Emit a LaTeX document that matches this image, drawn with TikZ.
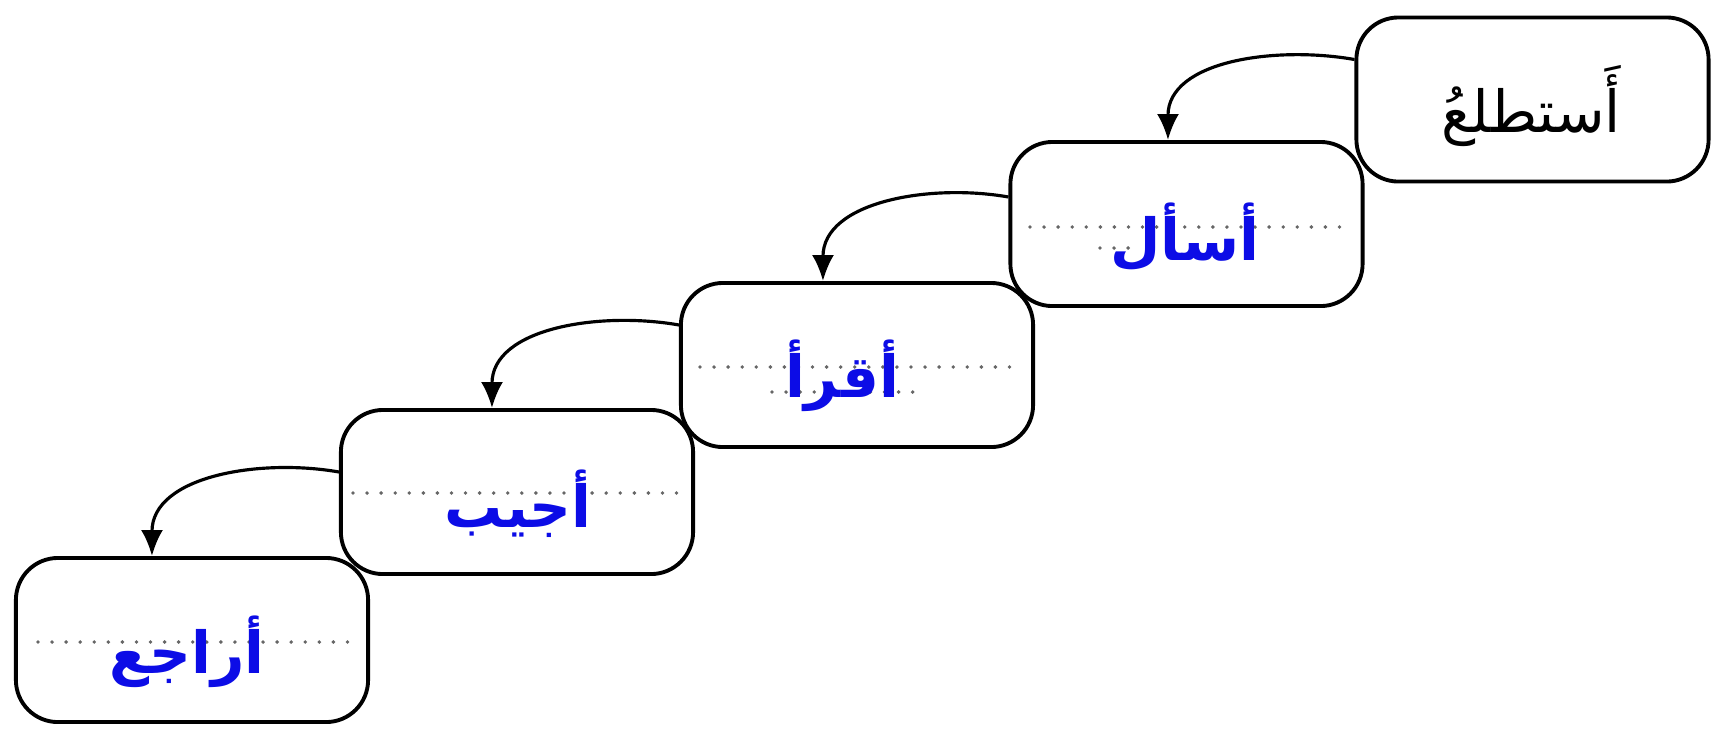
\documentclass[tikz,border=0pt]{standalone}
\usepackage{fontspec}
\TeXXeTstate=1
\newfontfamily\arabicfont[Script=Arabic]{DejaVu Sans}
\usetikzlibrary{arrows.meta}
\definecolor{ansblue}{RGB}{12,12,230}
\begin{document}
\begin{tikzpicture}[x=0.01cm,y=-0.01cm,
  box/.style={draw, line width=1.1pt, rounded corners=0.42cm, minimum width=3.52cm, minimum height=1.64cm, inner sep=0pt},
  word/.style={font=\arabicfont\bfseries\fontsize{16.5}{19}\selectfont, text=ansblue, inner sep=0pt},
  title/.style={font=\arabicfont\fontsize{16.5}{19}\selectfont, text=black, inner sep=0pt},
  guide/.style={black!60, line width=1.1pt, line cap=round, dash pattern=on 0pt off 4pt},
  link/.style={line width=0.9pt, -{Latex[length=2.6mm,width=2.2mm]}}]
\fill[white] (0,0) rectangle (1729,732);
\useasboundingbox (0,0) rectangle (1729,732);
% writing guides
\draw[guide] (1030,227) -- (1340,227);
\draw[guide] (1100,248) -- (1135,248);
\draw[guide] (700,367) -- (1020,367);
\draw[guide] (772,392) -- (922,392);
\draw[guide] (353,493) -- (680,493);
\draw[guide] (38,642) -- (350,642);
% boxes
\node[box] (b1) at (1532.5,99.5) {};
\node[box] (b2) at (1186.5,224) {};
\node[box] (b3) at (857,365) {};
\node[box] (b4) at (517,492) {};
\node[box] (b5) at (192,640) {};
% words
\node[title] (t1) at (1531,106) {\beginR أَستطلعُ\endR};
\node[word] (t2) at (1185,237) {\beginR أسأل\endR};
\node[word] (t3) at (842,376) {\beginR أقرأ\endR};
\node[word] (t4) at (518,504) {\beginR أجيب\endR};
\node[word] (t5) at (187,652) {\beginR أراجع\endR};
% connectors
\draw[link] ([yshift=0.4cm]b1.west) to[out=170,in=90] ([xshift=-0.185cm]b2.north);
\draw[link] ([yshift=0.27cm]b2.west) to[out=170,in=90] ([xshift=-0.34cm]b3.north);
\draw[link] ([yshift=0.4cm]b3.west) to[out=170,in=90] ([xshift=-0.25cm]b4.north);
\draw[link] ([yshift=0.2cm]b4.west) to[out=170,in=90] ([xshift=-0.40cm]b5.north);
\end{tikzpicture}
\end{document}
